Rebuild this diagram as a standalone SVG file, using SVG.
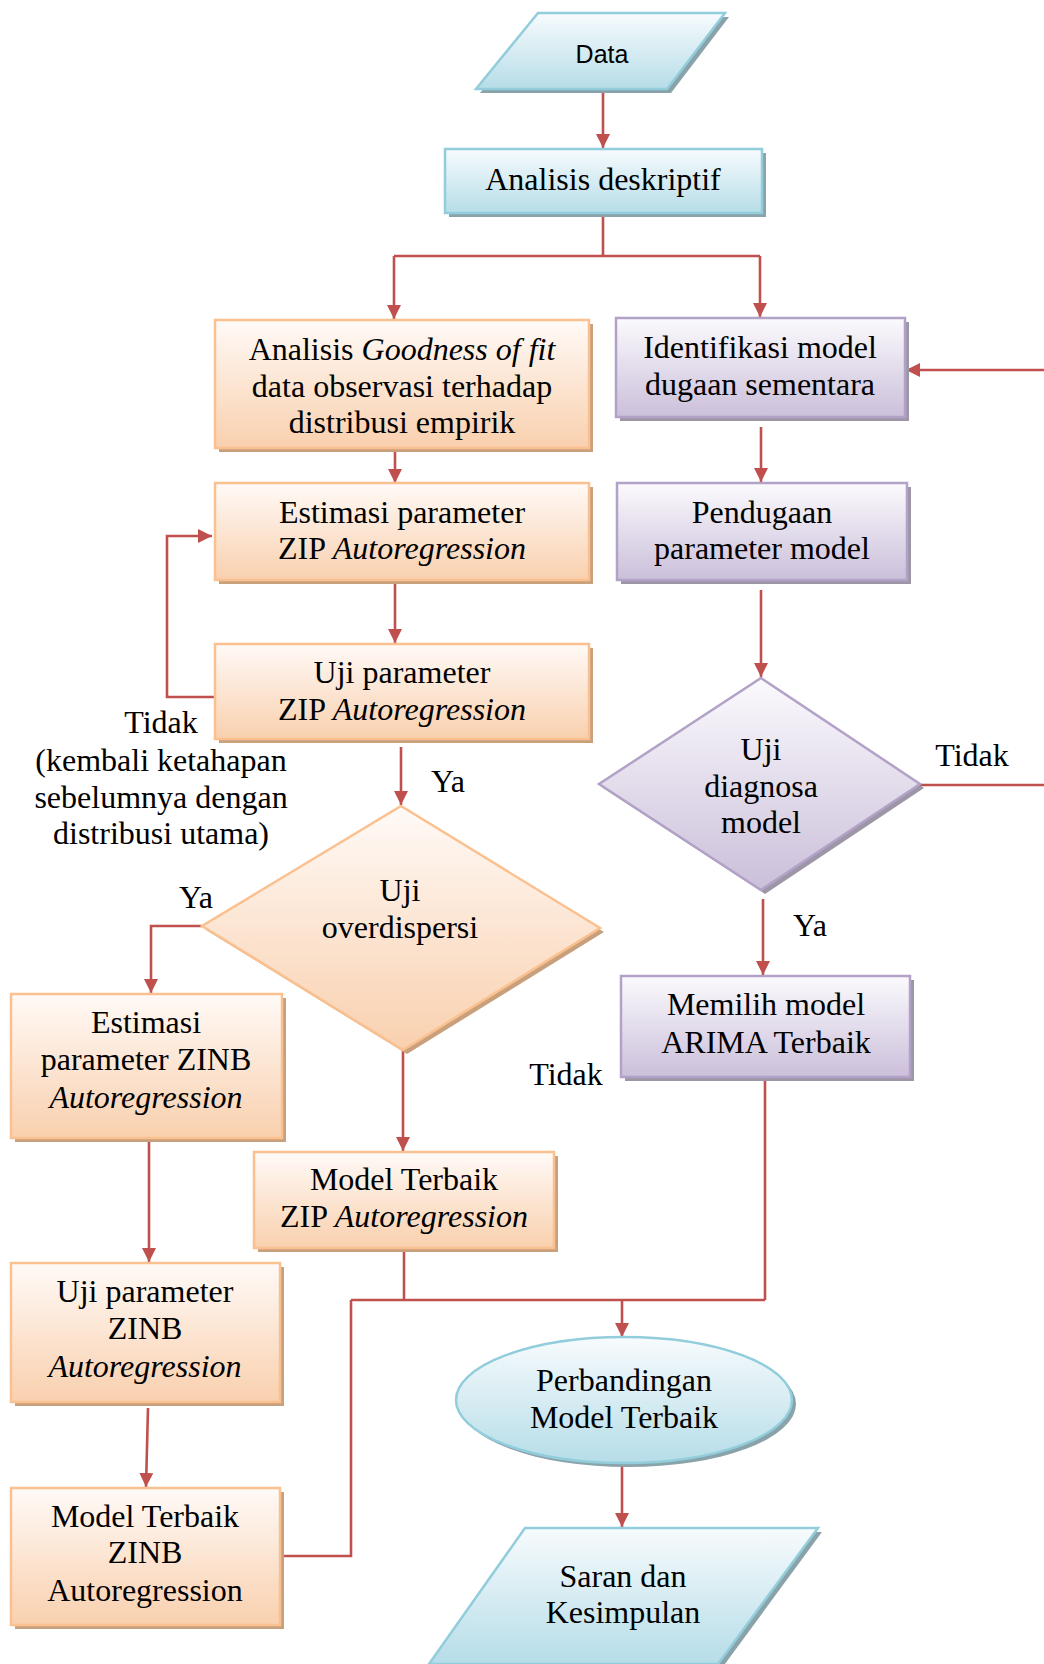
<svg xmlns="http://www.w3.org/2000/svg" width="1044" height="1664" viewBox="0 0 1044 1664">
<defs>
<linearGradient id="gB" x1="0" y1="0" x2="0" y2="1"><stop offset="0" stop-color="#f7fbfd"/><stop offset="1" stop-color="#b6dde8"/></linearGradient>
<linearGradient id="gO" x1="0" y1="0" x2="0" y2="1"><stop offset="0" stop-color="#fffaf7"/><stop offset="1" stop-color="#f9d0ae"/></linearGradient>
<linearGradient id="gP" x1="0" y1="0" x2="0" y2="1"><stop offset="0" stop-color="#fbfafd"/><stop offset="1" stop-color="#cbbfda"/></linearGradient>
<marker id="ar" markerUnits="userSpaceOnUse" markerWidth="14" markerHeight="14" viewBox="0 0 14 14" refX="14" refY="7" orient="auto"><path d="M0,0 L14,7 L0,14 Z" fill="#c0504d"/></marker>
<style>
.t{font-family:"Liberation Serif","Times New Roman",serif;font-size:32px;fill:#000;text-anchor:middle}
.i{font-style:italic}
.bl{fill:url(#gB);stroke:#92cddc;stroke-width:2.5}
.or{fill:url(#gO);stroke:#fac08f;stroke-width:2.5}
.pu{fill:url(#gP);stroke:#b2a2c7;stroke-width:2.5}
.sB{fill:#8aa2a9}
.sO{fill:#c9a07c}
.sP{fill:#9d96a6}
.c{fill:none;stroke:#c0504d;stroke-width:2.6}
.a{marker-end:url(#ar)}
</style>
</defs>

<g id="connectors">
<path class="c a" d="M603,89 L603,148"/>
<path class="c" d="M603,213 L603,256 M394,256 L760,256"/>
<path class="c a" d="M394,256 L394,319"/>
<path class="c a" d="M760,256 L760,317"/>
<path class="c a" d="M395,450 L395,483"/>
<path class="c a" d="M395,584 L395,643"/>
<path class="c a" d="M214,697 L167,697 L167,536 L212,536"/>
<path class="c a" d="M401,747 L401,805"/>
<path class="c a" d="M202,926 L151,926 L151,993"/>
<path class="c a" d="M403,1050 L403,1151"/>
<path class="c a" d="M149,1140 L149,1262"/>
<path class="c a" d="M148,1408 L146,1487"/>
<path class="c a" d="M761,427 L761,482"/>
<path class="c a" d="M761,590 L761,677"/>
<path class="c" d="M920,785 L1044,785"/>
<path class="c a" d="M1044,370 L906,370"/>
<path class="c a" d="M763,899 L763,975"/>
<path class="c" d="M404,1250 L404,1300 M351,1300 L765,1300 M765,1078 L765,1300 M282,1556 L351,1556 L351,1300"/>
<path class="c a" d="M622,1300 L622,1337"/>
<path class="c a" d="M622,1466 L622,1527"/>
</g>

<g id="data">
<polygon class="sB" points="542,17 729,17 671,93 480,93"/>
<polygon class="bl" points="538,13 725,13 667,89 476,89"/>
<text x="602" y="63" style="font-family:'Liberation Sans',Arial,sans-serif;font-size:25px;text-anchor:middle">Data</text>
</g>

<g id="analisis-deskriptif">
<rect class="sB" x="449" y="153" width="317" height="64"/>
<rect class="bl" x="445" y="149" width="317" height="64"/>
<text class="t" x="603" y="190">Analisis deskriptif</text>
</g>

<g id="goodness">
<rect class="sO" x="219" y="324" width="374" height="128"/>
<rect class="or" x="215" y="320" width="374" height="128"/>
<text class="t" x="402" y="360">Analisis <tspan class="i">Goodness of fit</tspan></text>
<text class="t" x="402" y="397">data observasi terhadap</text>
<text class="t" x="402" y="433">distribusi empirik</text>
</g>

<g id="estimasi-zip">
<rect class="sO" x="219" y="487" width="374" height="97"/>
<rect class="or" x="215" y="483" width="374" height="97"/>
<text class="t" x="402" y="523">Estimasi parameter</text>
<text class="t" x="402" y="559">ZIP <tspan class="i">Autoregression</tspan></text>
</g>

<g id="uji-zip">
<rect class="sO" x="219" y="648" width="374" height="95"/>
<rect class="or" x="215" y="644" width="374" height="95"/>
<text class="t" x="402" y="683">Uji parameter</text>
<text class="t" x="402" y="720">ZIP <tspan class="i">Autoregression</tspan></text>
</g>

<g id="label-tidak-left">
<text class="t" x="161" y="733">Tidak</text>
<text class="t" x="161" y="771">(kembali ketahapan</text>
<text class="t" x="161" y="808">sebelumnya dengan</text>
<text class="t" x="161" y="844">distribusi utama)</text>
</g>
<text class="t" x="448" y="792">Ya</text>
<text class="t" x="196" y="908">Ya</text>
<text class="t" x="566" y="1085">Tidak</text>
<text class="t" x="972" y="766">Tidak</text>
<text class="t" x="810" y="936">Ya</text>

<g id="uji-overdispersi">
<polygon class="sO" points="405,810 604,932 407,1054 206,930"/>
<polygon class="or" points="401,806 600,928 403,1050 202,926"/>
<text class="t" x="400" y="901">Uji</text>
<text class="t" x="400" y="938">overdispersi</text>
</g>

<g id="estimasi-zinb">
<rect class="sO" x="15" y="998" width="271" height="144"/>
<rect class="or" x="11" y="994" width="271" height="144"/>
<text class="t" x="146" y="1033">Estimasi</text>
<text class="t" x="146" y="1070">parameter ZINB</text>
<text class="t i" x="146" y="1108">Autoregression</text>
</g>

<g id="model-zip">
<rect class="sO" x="258" y="1156" width="300" height="96"/>
<rect class="or" x="254" y="1152" width="300" height="96"/>
<text class="t" x="404" y="1190">Model Terbaik</text>
<text class="t" x="404" y="1227">ZIP <tspan class="i">Autoregression</tspan></text>
</g>

<g id="uji-zinb">
<rect class="sO" x="15" y="1267" width="269" height="139"/>
<rect class="or" x="11" y="1263" width="269" height="139"/>
<text class="t" x="145" y="1302">Uji parameter</text>
<text class="t" x="145" y="1339">ZINB</text>
<text class="t i" x="145" y="1377">Autoregression</text>
</g>

<g id="model-zinb">
<rect class="sO" x="15" y="1492" width="269" height="137"/>
<rect class="or" x="11" y="1488" width="269" height="137"/>
<text class="t" x="145" y="1527">Model Terbaik</text>
<text class="t" x="145" y="1563">ZINB</text>
<text class="t" x="145" y="1601">Autoregression</text>
</g>

<g id="identifikasi">
<rect class="sP" x="620" y="322" width="289" height="99"/>
<rect class="pu" x="616" y="318" width="289" height="99"/>
<text class="t" x="760" y="358">Identifikasi model</text>
<text class="t" x="760" y="395">dugaan sementara</text>
</g>

<g id="pendugaan">
<rect class="sP" x="621" y="487" width="290" height="97"/>
<rect class="pu" x="617" y="483" width="290" height="97"/>
<text class="t" x="762" y="523">Pendugaan</text>
<text class="t" x="762" y="559">parameter model</text>
</g>

<g id="uji-diagnosa">
<polygon class="sP" points="765,682 924,788 765,894 603,788"/>
<polygon class="pu" points="761,678 920,784 761,890 599,784"/>
<text class="t" x="761" y="760">Uji</text>
<text class="t" x="761" y="797">diagnosa</text>
<text class="t" x="761" y="833">model</text>
</g>

<g id="memilih">
<rect class="sP" x="625" y="980" width="289" height="101"/>
<rect class="pu" x="621" y="976" width="289" height="101"/>
<text class="t" x="766" y="1015">Memilih model</text>
<text class="t" x="766" y="1053">ARIMA Terbaik</text>
</g>

<g id="perbandingan">
<ellipse class="sB" cx="628" cy="1404" rx="168" ry="63"/>
<ellipse class="bl" cx="624" cy="1400" rx="168" ry="63"/>
<text class="t" x="624" y="1391">Perbandingan</text>
<text class="t" x="624" y="1428">Model Terbaik</text>
</g>

<g id="saran">
<polygon class="sB" points="529,1532 822,1532 722,1668 433,1668"/>
<polygon class="bl" points="525,1528 818,1528 718,1664 429,1664"/>
<text class="t" x="623" y="1587">Saran dan</text>
<text class="t" x="623" y="1623">Kesimpulan</text>
</g>
</svg>
